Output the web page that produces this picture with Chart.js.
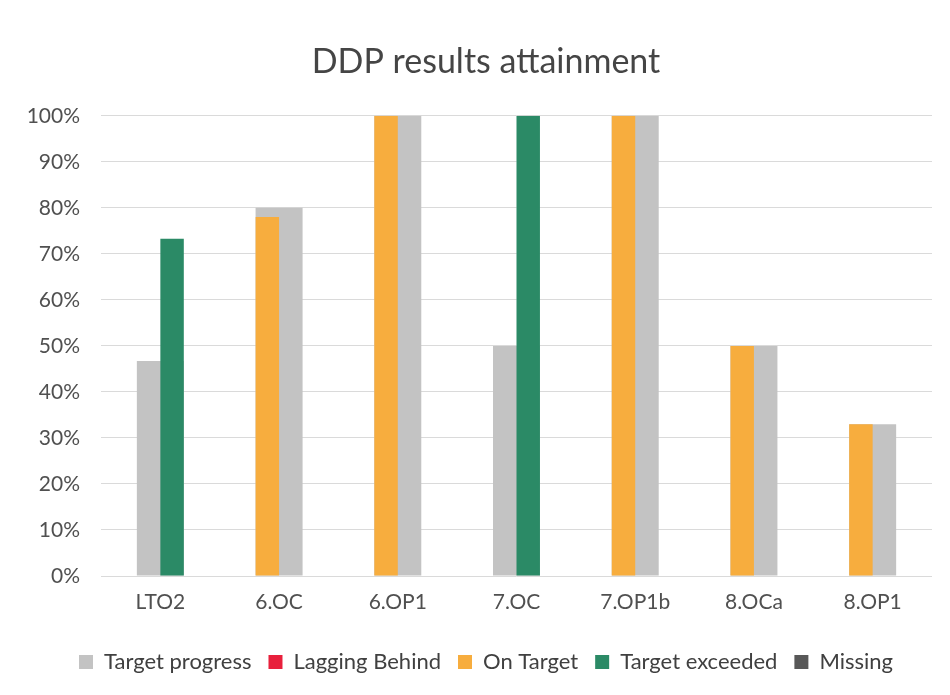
<!DOCTYPE html>
<html>
<head>
<meta charset="utf-8">
<script src="https://cdn.jsdelivr.net/npm/chart.js@4"></script>
<style>
  html, body { margin: 0; padding: 0; background: #fff; }
  #wrap { width: 950px; height: 695px; }
</style>
</head>
<body>
<div id="wrap"><canvas id="ddpChart"></canvas></div>
<script>
// chart data
const categories = ["LTO2", "6.OC", "6.OP1", "7.OC", "7.OP1b", "8.OCa", "8.OP1"];
const targetProgress = [46.7, 80, 100, 50, 100, 50, 33];
const laggingBehind  = [null, null, null, null, null, null, null];
const onTarget       = [null, 78, 100, null, 100, 50, 33];
const targetExceeded = [73.3, null, null, 100, null, null, null];
const missing        = [null, null, null, null, null, null, null];
const yTicks = [0, 10, 20, 30, 40, 50, 60, 70, 80, 90, 100];

const FONT = "Lato, 'Open Sans', sans-serif";
const TEXT = "#505050";

const ctx = document.getElementById("ddpChart").getContext("2d");

// coloured bars share 4 slots per category, the grey one sits wide behind them
const colouredBar = (label, data, color) => ({
    label: label,
    data: data,
    backgroundColor: color,
    borderWidth: 0,
    categoryPercentage: 0.79,
    barPercentage: 1.0,
    order: 0
});

window.ddpChart = new Chart(ctx, {
    type: "bar",
    data: {
        labels: categories,
        datasets: [
            {
                label: "Target progress",
                data: targetProgress,
                backgroundColor: "#c3c3c3",
                borderWidth: 0,
                grouped: false,
                categoryPercentage: 0.396,
                barPercentage: 1.0,
                order: 1
            },
            colouredBar("Lagging Behind", laggingBehind, "#e8203c"),
            colouredBar("On Target", onTarget, "#f7ad3e"),
            colouredBar("Target exceeded", targetExceeded, "#2b8a66"),
            colouredBar("Missing", missing, "#585858")
        ]
    },
    options: {
        responsive: true,
        maintainAspectRatio: false,
        animation: false,
        layout: { padding: { left: 22, right: 0, top: 42, bottom: 12 } },
        scales: {
            x: {
                offset: true,
                grid: { display: false, drawTicks: false },
                border: { display: false },
                afterFit: (scale) => { scale.height = 58; },
                ticks: { color: TEXT, font: { family: FONT, size: 21 }, padding: 14 }
            },
            y: {
                min: 0,
                max: 100,
                afterBuildTicks: (scale) => {
                    scale.ticks = yTicks.map(v => ({ value: v }));
                },
                afterFit: (scale) => { scale.width = 79; },
                grid: { color: "#dadada", lineWidth: 1, drawTicks: false },
                border: { display: false },
                ticks: {
                    color: TEXT,
                    font: { family: FONT, size: 21 },
                    padding: 21,
                    callback: (v) => v + "%"
                }
            },
            // empty strip on the right so the plot ends where the original does
            yRight: {
                position: "right",
                grid: { display: false, drawTicks: false },
                border: { display: false },
                ticks: { display: false },
                afterFit: (scale) => { scale.width = 18; }
            }
        },
        plugins: {
            title: {
                display: true,
                text: "DDP results attainment",
                color: "#454545",
                font: { family: FONT, size: 34, weight: "normal" },
                padding: { top: 0, bottom: 33 }
            },
            legend: {
                position: "bottom",
                labels: {
                    color: "#404040",
                    font: { family: FONT, size: 22 },
                    boxWidth: 14,
                    boxHeight: 14,
                    padding: 17,
                    sort: (a, b) => a.datasetIndex - b.datasetIndex
                }
            },
            tooltip: { enabled: false }
        }
    }
});
</script>
</body>
</html>
